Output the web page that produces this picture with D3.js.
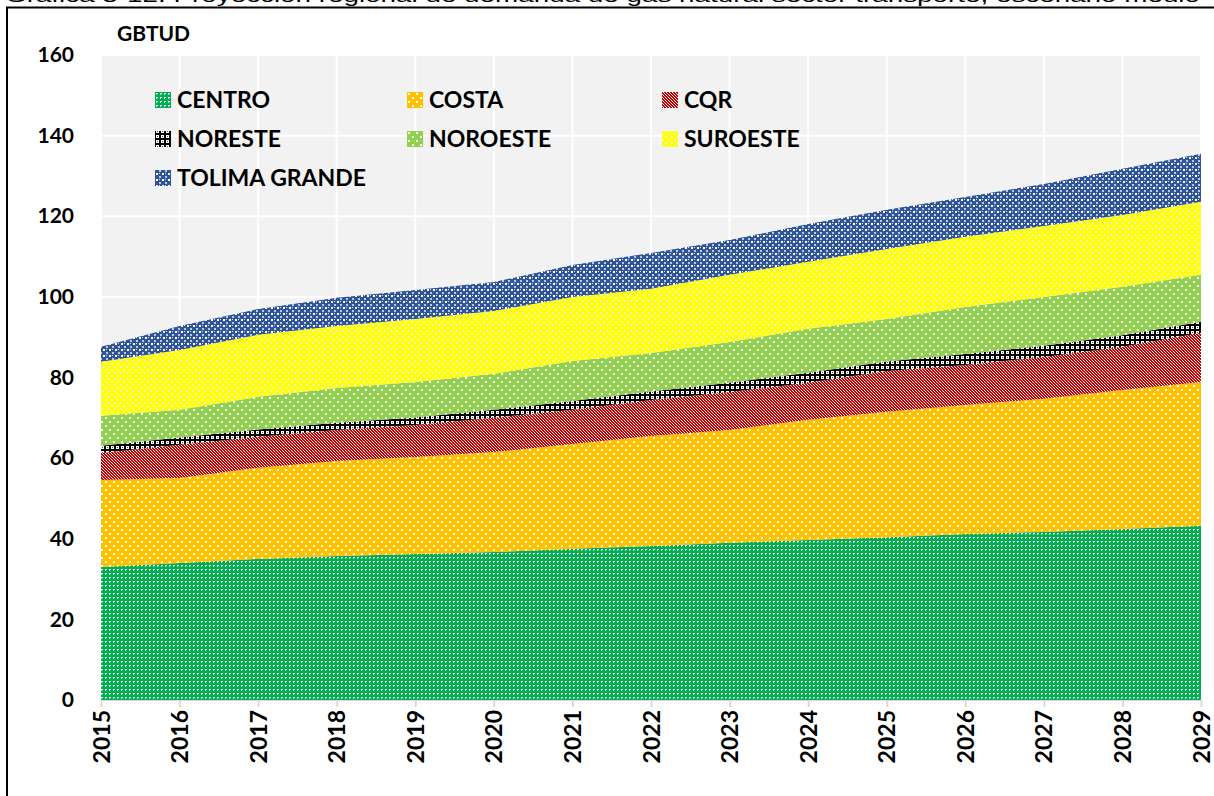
<!DOCTYPE html>
<html><head><meta charset="utf-8">
<script src="https://cdn.jsdelivr.net/npm/d3@7"></script>
<style>body{margin:0;background:#fff}svg{display:block}</style>
</head><body>
<svg id="c" width="1214" height="796"></svg>
<script>
const years = [2015,2016,2017,2018,2019,2020,2021,2022,2023,2024,2025,2026,2027,2028,2029];
const seriesNames = ["CENTRO","COSTA","CQR","NORESTE","NOROESTE","SUROESTE","TOLIMA GRANDE"];
const centro   = [33.0,34.0,35.0,35.7,36.2,36.7,37.5,38.2,39.0,39.7,40.4,41.2,41.7,42.4,43.2];
const costa    = [21.6,21.1,22.6,23.6,24.1,24.8,26.0,27.3,28.0,29.8,31.1,32.0,33.0,34.5,35.7];
const cqr      = [6.7,8.2,7.7,7.7,7.9,8.5,8.5,8.9,9.4,9.2,10.1,9.9,10.4,10.7,12.2];
const noreste  = [1.8,1.8,1.8,1.8,1.9,2.0,2.2,2.1,2.3,2.5,2.4,2.7,2.8,2.9,2.7];
const noroeste = [7.4,6.9,8.1,8.6,8.8,8.9,9.9,9.6,10.1,10.9,10.5,11.7,12.1,12.0,11.7];
const suroeste = [13.4,14.8,15.4,15.4,15.6,15.6,15.9,15.9,16.7,16.6,17.4,17.4,17.6,17.8,18.1];
const tolima   = [3.7,6.0,6.4,7.0,7.2,7.2,7.9,8.9,8.6,9.4,9.7,9.9,10.4,11.5,11.9];
const yTicks = [0,20,40,60,80,100,120,140,160];
const unitLabel = "GBTUD";
const titleText = "Gráfica 3-12. Proyección regional de demanda de gas natural sector transporte, escenario medio";

const valuesBySeries = [centro,costa,cqr,noreste,noroeste,suroeste,tolima];
const table = years.map((y,i)=>{const o={year:y};seriesNames.forEach((s,k)=>o[s]=valuesBySeries[k][i]);return o;});

const svg = d3.select("#c");
const FONT = "Lato, 'Open Sans', sans-serif";
const defs = svg.append("defs");

function pat(id,w,h,bg,draw){
  const p = defs.append("pattern").attr("id",id).attr("patternUnits","userSpaceOnUse").attr("width",w).attr("height",h);
  p.append("rect").attr("width",w).attr("height",h).attr("fill",bg);
  draw(p);
}
function sq(p,x,y,w,h,c){p.append("rect").attr("x",x).attr("y",y).attr("width",w).attr("height",h).attr("fill",c);}
pat("p0",4,4,"#00b050",p=>{sq(p,1,1,2,1,"#ffffff");sq(p,1,2,1,1,"#bfeccf");});
pat("p1",8,8,"#ffc000",p=>{sq(p,1,1,2,2,"#ffffff");sq(p,5,5,2,2,"#ffffff");});
pat("p2",3,3,"#c00000",p=>{sq(p,0,0,1,1,"#ffffff");sq(p,1,1,1,1,"#ffffff");sq(p,2,2,1,1,"#f2b0b0");});
pat("p3",5,5,"#000000",p=>{sq(p,1,1,3,3,"#ffffff");sq(p,2,2,1,1,"#555555");});
pat("p4",8,8,"#92d050",p=>{sq(p,1,1,2,2,"#ffffff");sq(p,5,5,2,2,"#ffffff");});
pat("p5",6,6,"#ffff00",p=>{sq(p,0,0,2,2,"#f0f0b0");sq(p,3,3,2,2,"#f5f5c0");});
pat("p6",6,6,"#2f5597",p=>{sq(p,1,1,2,2,"#ffffff");sq(p,4,4,2,2,"#b8c7e4");sq(p,4,1,1,1,"#dfe6f3");});

const legendColors = ["p0","p1","p2","p3","p4","p5","p6"];

// title (cut off at top, as in the source image)
svg.append("text").attr("x",5).attr("y",2).attr("textLength",1195).attr("lengthAdjust","spacingAndGlyphs")
  .attr("font-family","'Liberation Sans', Arial, sans-serif").attr("font-size",19).attr("fill","#000").text(titleText);

svg.append("path").attr("d","M7,796 L7,7.5 L1214,7.5").attr("fill","none").attr("stroke","#000").attr("stroke-width",2);

const x0=101,x1=1201,yTop=55,yBot=700;
const x = d3.scaleLinear().domain([years[0],years[years.length-1]]).range([x0,x1]);
const y = d3.scaleLinear().domain([0,160]).range([yBot,yTop]);

svg.append("rect").attr("x",x0).attr("y",yTop).attr("width",x1-x0).attr("height",yBot-yTop).attr("fill","#f2f2f2");
svg.append("g").selectAll("line").data(years).join("line")
  .attr("x1",d=>x(d)).attr("x2",d=>x(d)).attr("y1",yTop).attr("y2",yBot).attr("stroke","#fff").attr("stroke-width",2);
svg.append("g").selectAll("line").data(yTicks).join("line")
  .attr("x1",x0).attr("x2",x1).attr("y1",d=>y(d)).attr("y2",d=>y(d)).attr("stroke","#fff").attr("stroke-width",2);

const stack = d3.stack().keys(seriesNames);
const stacked = stack(table);
const area = d3.area().x(d=>x(d.data.year)).y0(d=>y(d[0])).y1(d=>y(d[1]));
svg.append("g").selectAll("path").data(stacked).join("path")
  .attr("d",area).attr("fill",(d,i)=>`url(#${legendColors[i]})`);

const yAxis = svg.append("g").attr("transform",`translate(${x0},0)`)
  .call(d3.axisLeft(y).tickValues(yTicks).tickSize(0).tickPadding(27));
yAxis.select(".domain").remove();
yAxis.selectAll("text").attr("font-family",FONT).attr("font-weight","bold").attr("font-size",21).attr("fill","#000");

const xAxis = svg.append("g").attr("transform",`translate(0,${yBot})`)
  .call(d3.axisBottom(x).tickValues(years).tickFormat(d3.format("d")).tickSize(7));
xAxis.select(".domain").attr("stroke","#d9d9d9").attr("stroke-width",1);
xAxis.selectAll(".tick line").attr("stroke","#d9d9d9").attr("stroke-width",2);
xAxis.selectAll("text").attr("font-family",FONT).attr("font-weight","bold").attr("font-size",23).attr("fill","#000")
  .attr("transform","rotate(-90)").attr("text-anchor","end").attr("dx","-10").attr("dy","0.35em").attr("x",0).attr("y",0);

svg.append("text").attr("x",117).attr("y",41).attr("font-family",FONT).attr("font-weight","bold").attr("font-size",21).attr("fill","#000").text(unitLabel);

const lx=[155,407,662], ly=[100,139,178];
const lg = svg.append("g").selectAll("g").data(seriesNames).join("g")
  .attr("transform",(d,i)=>`translate(${lx[i%3]},${ly[Math.floor(i/3)]})`);
lg.append("rect").attr("x",0).attr("y",-8).attr("width",16).attr("height",16).attr("fill",(d,i)=>`url(#${legendColors[i]})`);
lg.append("text").attr("x",22).attr("y",0).attr("dy","0.36em").attr("font-family",FONT).attr("font-weight","bold").attr("font-size",23).attr("fill","#000").text(d=>d);
</script>
</body></html>
